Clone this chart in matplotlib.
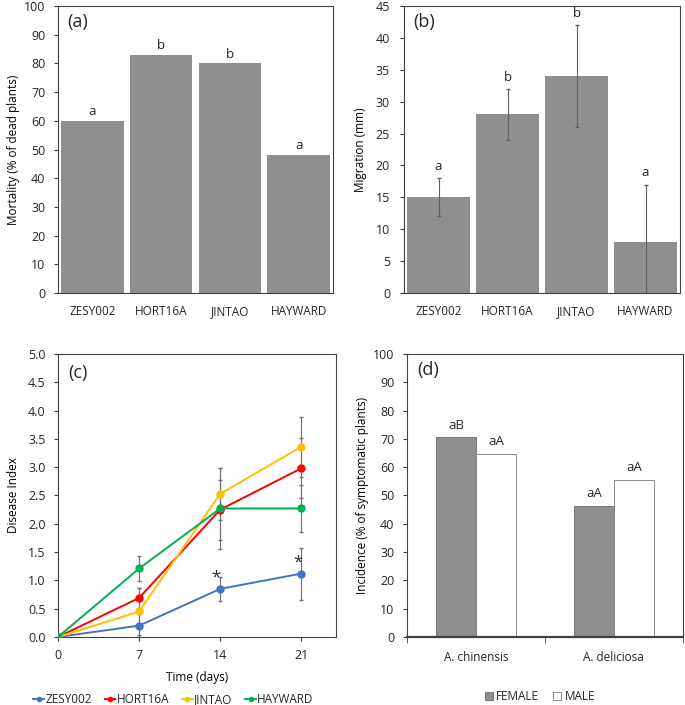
import numpy as np
import matplotlib.pyplot as plt

plt.rcParams['font.family'] = ['Open Sans', 'DejaVu Sans']
plt.rcParams['font.size'] = 8.5
plt.rcParams['text.color'] = '#262626'
plt.rcParams['axes.edgecolor'] = '#404040'
plt.rcParams['xtick.color'] = '#404040'
plt.rcParams['ytick.color'] = '#404040'
plt.rcParams['xtick.labelcolor'] = '#262626'
plt.rcParams['ytick.labelcolor'] = '#262626'

# data
cultivars = ['ZESY002', 'HORT16A', 'JINTAO', 'HAYWARD']
mortality = [60, 83, 80, 48]
mortality_letters = ['a', 'b', 'b', 'a']

migration = [15, 28, 34, 8]
migration_err = [3, 4, 8, 9]
migration_letters = ['a', 'b', 'b', 'a']

days = [0, 7, 14, 21]
di_zesy = [0, 0.20, 0.85, 1.12]
di_hort = [0, 0.69, 2.25, 2.98]
di_jintao = [0, 0.45, 2.53, 3.36]
di_hayward = [0, 1.21, 2.27, 2.27]
err_zesy = [0, 0.2, 0.21, 0.46]
err_hort = [0, 0.17, 0.53, 0.53]
err_jintao = [0, 0.42, 0.46, 0.53]
err_hayward = [0, 0.22, 0.72, 0.41]

species = ['A. chinensis', 'A. deliciosa']
female = [70.5, 46.4]
male = [64.8, 55.5]
female_letters = ['aB', 'aA']
male_letters = ['aA', 'aA']

bar_gray = '#8f8f8f'
err_col = '#606060'

fig = plt.figure(figsize=(6.85, 7.05), dpi=100)
ax_a = fig.add_axes([0.0847, 0.5844, 0.4015, 0.407])
ax_b = fig.add_axes([0.5898, 0.5844, 0.403, 0.407])
ax_c = fig.add_axes([0.0847, 0.0965, 0.406, 0.4014])
ax_d = fig.add_axes([0.594, 0.0965, 0.403, 0.4014])

x = np.arange(len(cultivars))


def cat_labels(ax, labels):
    # baseline alignment keeps labels with a descending "J" in line
    ax.set_xticklabels(labels, va='baseline')
    ax.tick_params(axis='x', length=0, pad=16)


# (a)
ax_a.bar(x, mortality, width=0.91, color=bar_gray)
for xi, v, t in zip(x, mortality, mortality_letters):
    ax_a.text(xi, v + 1, t, ha='center', va='bottom', fontsize=9.5)
ax_a.set_xlim(-0.5, 3.5)
ax_a.set_ylim(0, 100)
ax_a.set_yticks(range(0, 101, 10))
ax_a.set_xticks(x)
cat_labels(ax_a, cultivars)
ax_a.tick_params(axis='y', length=3, pad=6, labelsize=9)
ax_a.set_ylabel('Mortality (% of dead plants)', fontsize=8.5, labelpad=3)
ax_a.text(0.035, 0.975, '(a)', transform=ax_a.transAxes, fontsize=13,
          va='top')

# (b)
ax_b.bar(x, migration, width=0.91, color=bar_gray)
ax_b.errorbar(x, migration, yerr=migration_err, fmt='none', ecolor=err_col,
              elinewidth=0.8, capsize=1.5)
for xi, v, e, t in zip(x, migration, migration_err, migration_letters):
    ax_b.text(xi, v + e + 0.8, t, ha='center', va='bottom', fontsize=9.5)
ax_b.set_xlim(-0.5, 3.5)
ax_b.set_ylim(0, 45)
ax_b.set_yticks(range(0, 46, 5))
ax_b.set_xticks(x)
cat_labels(ax_b, cultivars)
ax_b.tick_params(axis='y', length=3, pad=7, labelsize=9)
ax_b.set_ylabel('Migration (mm)', fontsize=8.5, labelpad=6)
ax_b.text(0.033, 0.975, '(b)', transform=ax_b.transAxes, fontsize=13,
          va='top')

# (c)
series = [
    ('ZESY002', di_zesy, err_zesy, '#4472C4'),
    ('HORT16A', di_hort, err_hort, '#FF0000'),
    ('JINTAO', di_jintao, err_jintao, '#FFC000'),
    ('HAYWARD', di_hayward, err_hayward, '#00B050'),
]
for name, vals, errs, col in series:
    ax_c.errorbar(days, vals, yerr=errs, fmt='none', ecolor='#707070',
                  elinewidth=0.8, capsize=1.5, zorder=1)
for name, vals, errs, col in series:
    ax_c.plot(days, vals, '-o', color=col, lw=1.4, ms=5, label=name,
              zorder=3)
ax_c.text(13.6, 0.9, '*', ha='center', va='bottom', fontsize=12)
ax_c.text(20.7, 1.17, '*', ha='center', va='bottom', fontsize=12)
ax_c.set_xlim(0, 24)
ax_c.set_ylim(0, 5)
ax_c.set_xticks(days)
ax_c.set_yticks(np.arange(0, 5.01, 0.5))
ax_c.set_yticklabels(['%.1f' % v for v in np.arange(0, 5.01, 0.5)])
ax_c.tick_params(axis='x', length=3, pad=6, labelsize=9)
ax_c.tick_params(axis='y', length=3, pad=6, labelsize=9)
ax_c.set_xlabel('Time (days)', fontsize=8.5, labelpad=6)
ax_c.set_ylabel('Disease Index', fontsize=8.5, labelpad=6)
ax_c.text(0.035, 0.965, '(c)', transform=ax_c.transAxes, fontsize=13,
          va='top')
ax_c.legend(loc='center', bbox_to_anchor=(0.415, -0.222), ncol=4,
            frameon=False, fontsize=8.5, handlelength=0.9, handletextpad=0.1,
            columnspacing=1.1, markerscale=0.6, borderpad=0)

# (d)
xs = np.arange(len(species))
w = 0.29
ax_d.bar(xs - w / 2, female, width=w, color=bar_gray, edgecolor='#6a6a6a',
         lw=0.6, label='FEMALE')
ax_d.bar(xs + w / 2, male, width=w, color='white', edgecolor='#7a7a7a',
         lw=0.6, label='MALE')
for xi, v, t in zip(xs - w / 2, female, female_letters):
    ax_d.text(xi, v + 2, t, ha='center', va='bottom', fontsize=9.5)
for xi, v, t in zip(xs + w / 2, male, male_letters):
    ax_d.text(xi, v + 2, t, ha='center', va='bottom', fontsize=9.5)
ax_d.set_xlim(-0.5, 1.5)
ax_d.set_ylim(0, 100)
ax_d.set_yticks(range(0, 101, 10))
ax_d.set_xticks(xs)
ax_d.set_xticklabels(species, va='baseline')
ax_d.set_xticks([-0.5, 0.5, 1.5], minor=True)
ax_d.tick_params(axis='x', which='major', length=0, pad=17)
ax_d.tick_params(axis='x', which='minor', length=4)
ax_d.tick_params(axis='y', length=3, pad=6, labelsize=9)
ax_d.spines['bottom'].set_linewidth(1.6)
ax_d.set_ylabel('Incidence (% of symptomatic plants)', fontsize=8.5,
                labelpad=3)
ax_d.text(0.036, 0.975, '(d)', transform=ax_d.transAxes, fontsize=13,
          va='top')
ax_d.legend(loc='center', bbox_to_anchor=(0.482, -0.212), ncol=2,
            frameon=False, fontsize=8.5, handlelength=0.65, handleheight=0.65,
            handletextpad=0.3, columnspacing=1.2, borderpad=0)

fig.savefig('out.png', dpi=100)
